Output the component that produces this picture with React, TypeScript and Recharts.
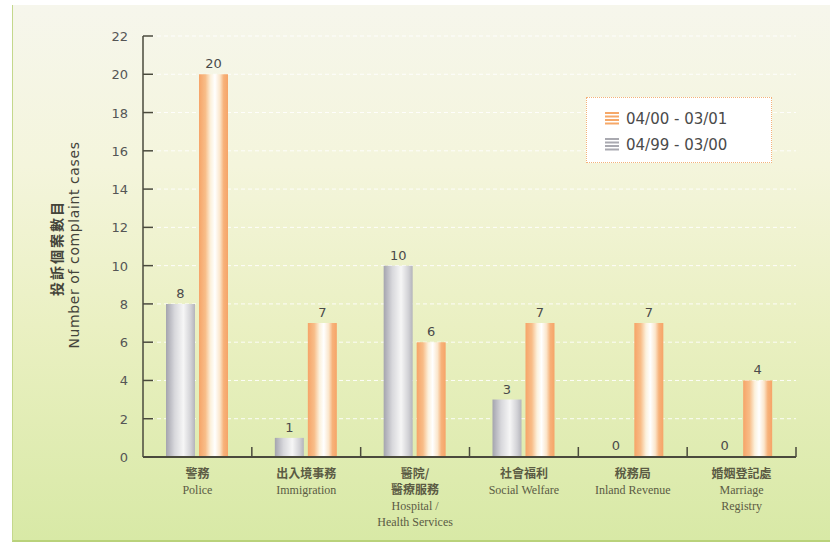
import React from "react";
import {
  BarChart,
  Bar,
  XAxis,
  YAxis,
  CartesianGrid,
  LabelList,
} from "recharts";

// Complaint cases received, by agency
const agenciesZh = [["警務"], ["出入境事務"], ["醫院/", "醫療服務"], ["社會福利"], ["稅務局"], ["婚姻登記處"]];
const agenciesEn = [["Police"], ["Immigration"], ["Hospital /", "Health Services"], ["Social Welfare"], ["Inland Revenue"], ["Marriage", "Registry"]];
const cases9900 = [8, 1, 10, 3, 0, 0];
const cases0001 = [20, 7, 6, 7, 7, 4];
const yTicks = [0, 2, 4, 6, 8, 10, 12, 14, 16, 18, 20, 22];

const seriesPrev = "04/99 - 03/00";
const seriesCurr = "04/00 - 03/01";

const data = agenciesEn.map((en, i) => ({
  name: en.join(" "),
  prev: cases9900[i],
  curr: cases0001[i],
}));

const W = 830;
const H = 544;
const MARGIN = { top: 36, right: 34, bottom: 86, left: 0 };
const AXIS_W = 143;
const BAND = (W - AXIS_W - MARGIN.right) / agenciesEn.length;

const INK = "#4a4a3c";
const NUM_FONT = "'DejaVu Sans', sans-serif";

const YTick = ({ x, y, payload }: any) => (
  <g>
    <line x1={x} x2={x + 10} y1={y} y2={y} stroke={INK} strokeWidth={1.5} />
    <text x={x - 15} y={y} dy={5} textAnchor="end" fontSize={13} fill="#555" fontFamily={NUM_FONT}>
      {payload.value}
    </text>
  </g>
);

const XTick = ({ x, y, payload }: any) => {
  const i = payload.index;
  const zh = agenciesZh[i];
  const en = agenciesEn[i];
  return (
    <g>
      <line x1={x + BAND / 2} x2={x + BAND / 2} y1={y} y2={y - 10} stroke={INK} strokeWidth={1.5} />
      {zh.map((t, k) => (
        <text key={"zh" + k} x={x} y={y + 21 + k * 16} textAnchor="middle" fontSize={12} fontWeight="bold"
          fill="#5b5b44" fontFamily="'Noto Sans CJK TC', sans-serif">
          {t}
        </text>
      ))}
      {en.map((t, k) => (
        <text key={"en" + k} x={x} y={y + 21 + (zh.length + k) * 16} textAnchor="middle" fontSize={12}
          fill="#5b5b44" fontFamily="'Liberation Serif', serif">
          {t}
        </text>
      ))}
    </g>
  );
};

const YTitle = () => (
  <g>
    <text transform="translate(62,248) rotate(-90)" textAnchor="middle" fontSize={14} fontWeight="bold"
      fill="#44443a" fontFamily="'Noto Sans CJK TC', sans-serif" letterSpacing={2}>
      投訴個案數目
    </text>
    <text transform="translate(79,245) rotate(-90)" textAnchor="middle" fontSize={14}
      fill="#44443a" fontFamily={NUM_FONT} letterSpacing={0.6}>
      Number of complaint cases
    </text>
  </g>
);

// value label drawn above each bar, zeros included
const ValueLabel = (props: any) => {
  const { x, y, width, value } = props;
  return (
    <text x={x + width / 2} y={y - 6} textAnchor="middle" fontSize={13} fill="#4a4a4a" fontFamily={NUM_FONT}>
      {value}
    </text>
  );
};

const StripeIcon = ({ color }: { color: string }) => (
  <svg width={14} height={14}>
    {[1, 4.5, 8, 11.5].map((yy) => (
      <line key={yy} x1={0} x2={14} y1={yy} y2={yy} stroke={color} strokeWidth={2} />
    ))}
  </svg>
);

const LegendBox = () => (
  <div
    style={{
      position: "absolute",
      left: 586,
      top: 97,
      width: 186,
      height: 66,
      background: "#fff",
      border: "1px dotted #f3b27a",
      boxSizing: "border-box",
      padding: "8px 0 0 18px",
      fontFamily: NUM_FONT,
      fontSize: 15,
      color: "#4a4a4a",
    }}
  >
    {[
      { label: seriesCurr, color: "#f6a868" },
      { label: seriesPrev, color: "#a9a9b0" },
    ].map((e) => (
      <div key={e.label} style={{ display: "flex", alignItems: "center", height: 26 }}>
        <StripeIcon color={e.color} />
        <span style={{ marginLeft: 7 }}>{e.label}</span>
      </div>
    ))}
  </div>
);

export default function App() {
  return (
    <div style={{ position: "absolute", left: 0, top: 0, width: W, height: H, background: "#fff", overflow: "hidden" }}>
      <div
        style={{
          position: "absolute",
          left: 12,
          top: 5,
          width: W - 12,
          height: H - 7,
          boxSizing: "border-box",
          borderLeft: "1px solid #c4d88c",
          borderBottom: "2px solid #b9d27a",
          background: "linear-gradient(to bottom, #f6f6ec 0%, #f4f5dc 30%, #eaf0c2 60%, #d8e9a6 100%)",
        }}
      />
      <div style={{ position: "absolute", left: 0, top: 0 }}>
        <BarChart width={W} height={H} data={data} margin={MARGIN} barSize={29} barGap={4}>
          <defs>
            <linearGradient id="barPrev" x1="0" y1="0" x2="1" y2="0">
              <stop offset="0%" stopColor="#a4a4ae" />
              <stop offset="30%" stopColor="#d8d8dc" />
              <stop offset="60%" stopColor="#f6f6f6" />
              <stop offset="85%" stopColor="#d2d2d6" />
              <stop offset="100%" stopColor="#b4b4bb" />
            </linearGradient>
            <linearGradient id="barCurr" x1="0" y1="0" x2="1" y2="0">
              <stop offset="0%" stopColor="#f6a468" />
              <stop offset="22%" stopColor="#f8bd88" />
              <stop offset="40%" stopColor="#fcf1dc" />
              <stop offset="55%" stopColor="#ffffff" />
              <stop offset="72%" stopColor="#fbe6cc" />
              <stop offset="85%" stopColor="#f7b27a" />
              <stop offset="100%" stopColor="#f6a468" />
            </linearGradient>
          </defs>
          <CartesianGrid vertical={false} horizontal stroke="#ffffff" strokeDasharray="4 3" strokeOpacity={0.9} />
          <XAxis
            dataKey="name"
            height={1}
            interval={0}
            tickSize={0}
            tickMargin={0}
            tickLine={false}
            axisLine={{ stroke: INK, strokeWidth: 2 }}
            tick={<XTick />}
          />
          <YAxis
            width={AXIS_W}
            domain={[0, 22]}
            ticks={yTicks}
            interval={0}
            tickSize={0}
            tickMargin={0}
            tickLine={false}
            axisLine={{ stroke: INK, strokeWidth: 1.5 }}
            tick={<YTick />}
            label={{ content: () => <YTitle /> }}
          />
          <Bar dataKey="prev" name={seriesPrev} fill="url(#barPrev)" minPointSize={1} isAnimationActive={false}>
            <LabelList dataKey="prev" content={<ValueLabel />} />
          </Bar>
          <Bar dataKey="curr" name={seriesCurr} fill="url(#barCurr)" isAnimationActive={false}>
            <LabelList dataKey="curr" content={<ValueLabel />} />
          </Bar>
        </BarChart>
      </div>
      <LegendBox />
    </div>
  );
}
